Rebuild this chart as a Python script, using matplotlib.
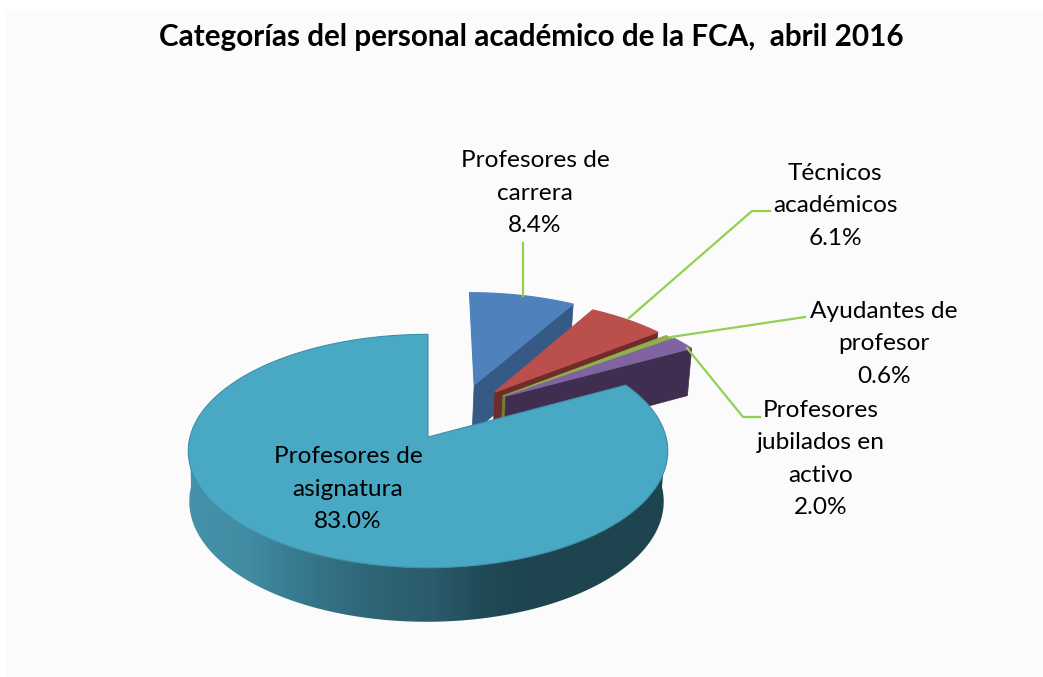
import numpy as np
import matplotlib
matplotlib.use('Agg')
import matplotlib.pyplot as plt
from matplotlib.colors import LinearSegmentedColormap
from matplotlib.patches import Polygon

# data, clockwise from 12 o'clock
names = ['Profesores de\ncarrera', 'Técnicos\nacadémicos', 'Ayudantes de\nprofesor',
         'Profesores\njubilados en\nactivo', 'Profesores de\nasignatura']
values = [8.4, 6.1, 0.6, 2.0, 83.0]
title = 'Categorías del personal académico de la FCA,  abril 2016'

# look of each slice
top_colors = ['#4f81bd', '#bb4f4b', '#8fb04a', '#8064a2', '#49a8c3']
wall_colors = ['#365a85', '#6f2c2a', '#6c8436', '#3f2e50', '#2a6a7c']
# how far each slice was pulled out of the pie (unit circle coords)
offsets = [(0.205, 0.478), (0.295, 0.41), (0.329, 0.372), (0.342, 0.372), (0.0, 0.0)]

plt.rcParams['font.family'] = ['Lato', 'DejaVu Sans']

# perspective of the top and bottom disc
K = 0.12
def top_xy(x, y):
    w = 1 + K * y
    return 428 + 238 * x / w, 437 - 115 * y / w

def bottom_xy(x, y):
    w = 1 + K * y
    return 426.5 + 235.5 * x / w, 487 - 118.6 * y / w

def arc(a0, a1, off):
    t = np.radians(np.linspace(a0, a1, max(int(abs(a1 - a0)) * 2, 2) + 1))
    return off[0] + np.sin(t), off[1] + np.cos(t)

fig = plt.figure(figsize=(10.43, 6.77), dpi=100, facecolor='white')
ax = fig.add_axes([0, 0, 1, 1])
ax.axis('off')
ax.fill([6, 1043, 1043, 6], [11, 11, 677, 677], color='#fbfbfb', lw=0)

edges = np.cumsum([0] + values) / sum(values) * 360

for i in range(len(values)):
    a0, a1 = edges[i], edges[i + 1]
    off = offsets[i]
    if i < 4:
        # wall along the clockwise edge of the slice
        ex = off[0] + np.sin(np.radians(a1))
        ey = off[1] + np.cos(np.radians(a1))
        tx, ty = top_xy(np.array([off[0], ex]), np.array([off[1], ey]))
        bx, by = bottom_xy(np.array([off[0], ex]), np.array([off[1], ey]))
        ax.fill([tx[0], tx[1], bx[1], bx[0]], [ty[0], ty[1], by[1], by[0]],
                color=wall_colors[i], lw=0.5)
    else:
        # outer wall of the big slice, shaded from left to right
        shade = LinearSegmentedColormap.from_list('wall', [
            (0.0, '#4692ab'), (0.185, '#418ca3'), (0.33, '#37798e'), (0.53, '#2f6677'),
            (0.73, '#2a5a6b'), (0.87, '#204a57'), (1.0, '#1d444f')])
        x, y = arc(90, 270, off)
        tx, ty = top_xy(x, y)
        bx, by = bottom_xy(x, y)
        wall = Polygon(np.c_[np.r_[tx, bx[::-1]], np.r_[ty, by[::-1]]], closed=True,
                       facecolor='none', edgecolor='none', transform=ax.transData)
        ax.add_patch(wall)
        grad = np.linspace(0, 1, 340).reshape(1, -1)
        im = ax.imshow(grad, extent=(185, 530, 640, 300), cmap=shade, aspect='auto', zorder=1)
        im.set_clip_path(wall)
        im2 = ax.imshow(np.ones((1, 2)), extent=(530, 680, 640, 300), cmap=shade, vmin=0, vmax=1,
                        aspect='auto', zorder=1)
        im2.set_clip_path(wall)
    # top face
    x, y = arc(a0, a1, off)
    tx, ty = top_xy(np.r_[off[0], x], np.r_[off[1], y])
    edge = '#3d90a8' if i == 4 else top_colors[i]
    ax.fill(tx, ty, facecolor=top_colors[i], edgecolor=edge, lw=0.8, joinstyle='miter', zorder=1.5)

ax.set_xlim(0, 1043)
ax.set_ylim(677, 0)

# leader lines
green = '#92d050'
ax.plot([523, 523], [243, 296], color=green, lw=1.6)
ax.plot([629, 752, 770], [318, 211, 211], color=green, lw=1.6)
ax.plot([671, 805], [337, 317], color=green, lw=1.6)
ax.plot([687, 743, 760], [348, 417, 417], color=green, lw=1.6)

# labels, in the order of values
label_xy = [(535, 193), (835, 206), (884, 344), (821, 459), (348, 489)]
for name, v, (lx, ly) in zip(names, values, label_xy):
    ax.text(lx, ly, f'{name}\n{v:.1f}%', ha='center', va='center', fontsize=17.6,
            color='black', linespacing=1.65)

ax.text(531, 37, title, ha='center', va='center', fontsize=21.3, fontweight='bold',
        color='black')

fig.savefig('out.png', dpi=100, facecolor='white')
